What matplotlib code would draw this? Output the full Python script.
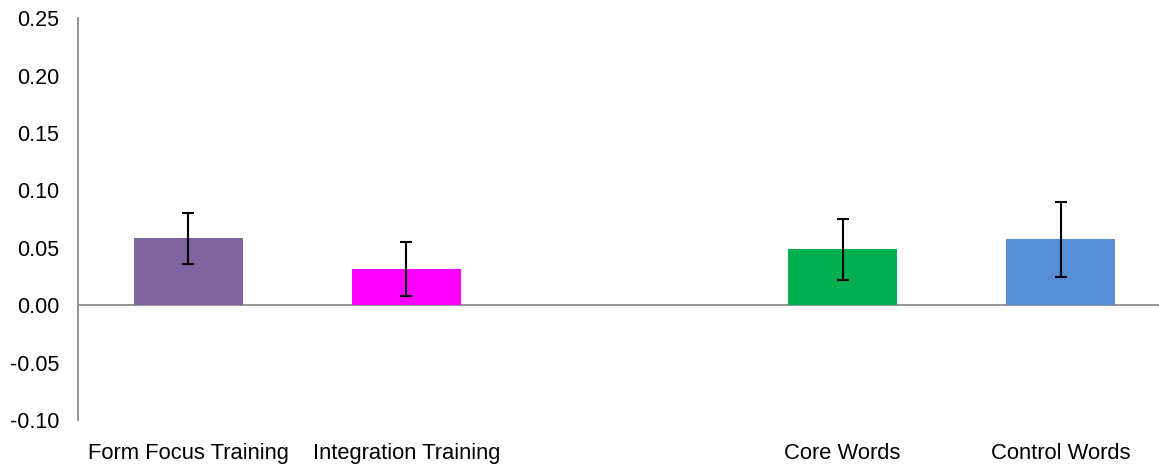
import matplotlib.pyplot as plt
import numpy as np

plt.rcParams['font.family'] = ['Liberation Sans', 'DejaVu Sans']

categories = ['Form Focus Training', 'Integration Training', 'Core Words', 'Control Words']
positions = [0, 1, 3, 4]  # slot 2 left empty
values = [0.0583, 0.0318, 0.0487, 0.0574]
errors = [0.0222, 0.0237, 0.0266, 0.0325]
colors = ['#8064A2', '#FF00FF', '#00B050', '#558ED5']
yticks = np.arange(-0.10, 0.2501, 0.05)

fig = plt.figure(figsize=(11.59, 4.65), dpi=100)
ax = fig.add_axes([78 / 1159, 1 - 420 / 465, 1 - 78 / 1159, (420 - 18.3) / 465])

ax.bar(positions, values, width=0.5, color=colors, zorder=2)
ax.errorbar(positions, values, yerr=errors, fmt='none', ecolor='black',
            elinewidth=1.5, capsize=4, capthick=1.5, zorder=3)
ax.axhline(0, color='#8C8C8C', lw=1.3, zorder=1)

ax.set_xlim(-0.505, 4.45)
ax.set_ylim(-0.10, 0.25)
ax.set_yticks(yticks)
ax.set_yticklabels([f'{v:.2f}' for v in yticks])
ax.set_xticks(positions)
ax.set_xticklabels(categories)
ax.tick_params(axis='y', length=0, pad=13.5, labelsize=15.5)
ax.tick_params(axis='x', length=0, pad=16.5, labelsize=15.8)

for s in ['top', 'right', 'bottom']:
    ax.spines[s].set_visible(False)
ax.spines['left'].set_color('#8C8C8C')
ax.spines['left'].set_linewidth(1.3)

fig.savefig('out.png', dpi=100)
